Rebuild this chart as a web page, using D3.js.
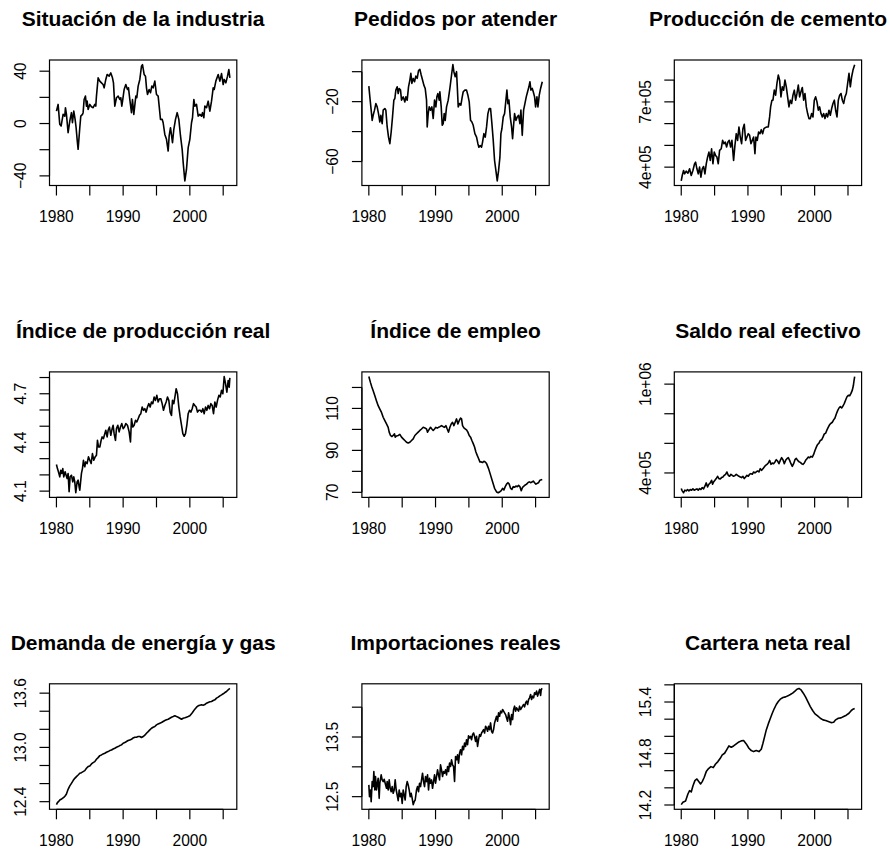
<!DOCTYPE html>
<html>
<head>
<meta charset="utf-8">
<script src="https://cdn.jsdelivr.net/npm/d3@7"></script>
<style>
  body { margin: 0; background: #fff; }
  svg text { font-family: "Liberation Sans", Arial, Helvetica, sans-serif; fill: #000; }
</style>
</head>
<body>
<svg id="chart" width="890" height="850"></svg>
<script>
/*--- data: [year, value] ---*/
var titles = ["Situación de la industria", "Pedidos por atender", "Producción de cemento",
  "Índice de producción real", "Índice de empleo", "Saldo real efectivo",
  "Demanda de energía y gas", "Importaciones reales", "Cartera neta real"];

var situacion = [[1980.0,9.5],[1980.25,14.6],[1980.5,-0.6],[1980.7,-1.9],[1981.0,7.0],[1981.25,5.7],[1981.35,12.1],[1981.5,7.0],[1981.75,-7.0],[1982.0,1.9],[1982.25,8.3],[1982.4,0.6],[1982.6,9.5],[1982.8,3.2],[1982.95,-3.2],[1983.1,-12.1],[1983.25,-19.7],[1983.5,-3.2],[1983.65,5.7],[1983.9,7.0],[1984.0,8.3],[1984.15,18.4],[1984.35,21.0],[1984.5,13.3],[1984.6,17.1],[1984.75,10.8],[1985.0,14.6],[1985.25,12.8],[1985.5,12.1],[1985.75,14.6],[1985.9,13.3],[1986.0,21.0],[1986.25,34.9],[1986.5,32.4],[1986.75,31.1],[1987.0,29.8],[1987.15,27.3],[1987.4,33.7],[1987.6,37.5],[1987.9,36.2],[1988.15,38.7],[1988.4,34.9],[1988.55,31.1],[1988.75,13.3],[1989.0,19.7],[1989.25,21.0],[1989.5,18.4],[1989.65,19.7],[1989.8,13.3],[1989.95,18.4],[1990.15,26.0],[1990.4,29.8],[1990.65,26.0],[1990.8,27.3],[1991.0,18.4],[1991.25,8.3],[1991.4,18.4],[1991.6,7.0],[1991.9,21.0],[1992.05,19.7],[1992.25,28.6],[1992.5,33.7],[1992.75,43.8],[1992.9,45.0],[1993.15,37.5],[1993.35,36.2],[1993.5,27.3],[1993.65,22.2],[1993.9,26.0],[1994.1,23.5],[1994.3,28.6],[1994.5,27.3],[1994.75,32.4],[1995.0,22.2],[1995.25,21.0],[1995.6,3.2],[1995.85,3.2],[1996.0,0.6],[1996.25,-8.3],[1996.5,-12.1],[1996.75,-21.0],[1996.9,-9.5],[1997.1,-3.2],[1997.4,-14.6],[1997.6,-4.4],[1997.85,3.2],[1998.1,8.3],[1998.35,3.2],[1998.6,-9.5],[1998.85,-19.7],[1999.0,-29.8],[1999.25,-43.8],[1999.5,-34.9],[1999.75,-18.4],[2000.0,-12.1],[2000.25,0.6],[2000.4,4.4],[2000.6,18.4],[2000.75,13.3],[2001.0,14.6],[2001.25,5.7],[2001.5,7.0],[2001.75,5.7],[2001.9,8.3],[2002.1,4.4],[2002.25,13.3],[2002.5,12.1],[2002.75,17.1],[2003.0,9.5],[2003.25,17.1],[2003.5,27.3],[2003.65,26.0],[2003.9,32.4],[2004.25,37.5],[2004.5,32.4],[2004.75,38.2],[2005.0,29.8],[2005.15,33.7],[2005.4,31.1],[2005.65,36.2],[2005.85,41.3],[2006.0,34.9]];

var pedidos = [[1980.0,-9.6],[1980.15,-16.8],[1980.35,-25.7],[1980.5,-32.5],[1980.65,-29.1],[1980.85,-25.7],[1981.05,-21.3],[1981.25,-23.5],[1981.45,-28.0],[1981.65,-33.6],[1981.8,-29.1],[1982.0,-34.7],[1982.15,-25.7],[1982.4,-24.6],[1982.55,-25.7],[1982.75,-36.9],[1982.95,-43.7],[1983.15,-48.1],[1983.35,-40.3],[1983.55,-30.2],[1983.75,-19.0],[1983.9,-17.9],[1984.05,-12.3],[1984.25,-10.1],[1984.4,-14.6],[1984.55,-11.2],[1984.75,-12.3],[1984.9,-19.0],[1985.15,-16.8],[1985.4,-20.2],[1985.55,-16.8],[1985.75,-19.0],[1985.95,-10.1],[1986.15,-5.6],[1986.3,-1.1],[1986.45,-7.8],[1986.65,-4.5],[1986.85,-6.7],[1987.05,-2.9],[1987.25,-4.5],[1987.45,0.7],[1987.65,1.6],[1987.85,-2.2],[1988.05,-5.6],[1988.25,-9.0],[1988.45,-11.2],[1988.65,-19.0],[1988.75,-36.9],[1988.9,-28.0],[1989.05,-23.5],[1989.25,-25.7],[1989.45,-23.5],[1989.65,-31.3],[1989.85,-19.0],[1990.05,-23.5],[1990.2,-16.8],[1990.35,-14.6],[1990.55,-19.0],[1990.65,-13.4],[1990.85,-23.5],[1991.0,-35.8],[1991.15,-34.7],[1991.3,-28.0],[1991.45,-32.5],[1991.65,-23.5],[1991.9,-19.0],[1992.15,-11.2],[1992.4,-2.2],[1992.6,4.7],[1992.75,0.0],[1992.95,-3.4],[1993.15,0.0],[1993.25,-9.0],[1993.4,-23.5],[1993.6,-21.3],[1993.8,-22.4],[1994.0,-16.8],[1994.15,-13.4],[1994.4,-12.3],[1994.65,-12.3],[1994.85,-15.7],[1995.05,-20.2],[1995.25,-32.5],[1995.45,-33.6],[1995.65,-35.8],[1995.9,-41.4],[1996.15,-43.7],[1996.35,-48.1],[1996.5,-50.4],[1996.7,-49.3],[1996.9,-50.4],[1997.05,-47.0],[1997.25,-41.4],[1997.45,-43.7],[1997.65,-36.9],[1997.85,-28.0],[1998.05,-24.6],[1998.25,-24.6],[1998.45,-34.7],[1998.65,-45.9],[1998.85,-59.3],[1999.05,-66.1],[1999.25,-72.9],[1999.45,-66.1],[1999.65,-57.1],[1999.8,-41.4],[1999.95,-38.1],[2000.15,-30.2],[2000.35,-28.0],[2000.55,-19.0],[2000.7,-12.3],[2000.85,-21.3],[2001.0,-19.0],[2001.2,-30.2],[2001.4,-36.9],[2001.55,-44.8],[2001.7,-35.8],[2001.85,-28.0],[2002.05,-32.5],[2002.25,-30.2],[2002.45,-29.1],[2002.65,-34.7],[2002.8,-25.7],[2003.0,-42.5],[2003.2,-25.7],[2003.4,-21.3],[2003.6,-16.8],[2003.8,-13.4],[2004.0,-10.1],[2004.15,-6.7],[2004.3,-12.3],[2004.5,-11.2],[2004.65,-13.4],[2004.85,-16.8],[2005.0,-23.5],[2005.2,-16.8],[2005.35,-23.5],[2005.55,-15.7],[2005.75,-11.2],[2006.0,-6.7]];

var cemento = [[1980.0,337000],[1980.15,361500],[1980.35,384600],[1980.5,369200],[1980.75,381500],[1981.0,372300],[1981.25,392300],[1981.5,361500],[1981.75,384600],[1982.0,415400],[1982.15,423100],[1982.35,392300],[1982.55,369200],[1982.75,400000],[1982.95,353800],[1983.15,392300],[1983.35,403100],[1983.55,369200],[1983.75,415400],[1983.95,446200],[1984.15,469200],[1984.35,430800],[1984.55,484600],[1984.75,415400],[1984.95,469200],[1985.15,453800],[1985.35,446200],[1985.55,415400],[1985.75,476900],[1986.0,484600],[1986.2,523100],[1986.4,507700],[1986.6,515400],[1986.8,492300],[1987.0,515400],[1987.2,523100],[1987.4,492300],[1987.6,523100],[1987.85,430800],[1988.05,500000],[1988.25,553800],[1988.45,523100],[1988.65,584600],[1988.85,538500],[1989.05,507700],[1989.25,576900],[1989.45,596900],[1989.65,523100],[1989.85,538500],[1990.05,553800],[1990.25,546200],[1990.45,507700],[1990.65,523100],[1990.85,538500],[1991.05,461500],[1991.2,538500],[1991.4,523100],[1991.6,561500],[1991.8,553800],[1992.0,572300],[1992.2,553800],[1992.4,576900],[1992.6,581500],[1992.8,584600],[1993.05,584600],[1993.25,630800],[1993.4,676900],[1993.6,707700],[1993.75,707700],[1993.95,753800],[1994.15,730800],[1994.35,784600],[1994.55,823100],[1994.75,800000],[1994.95,723100],[1995.15,769200],[1995.35,753800],[1995.55,800000],[1995.75,769200],[1995.95,723100],[1996.15,676900],[1996.35,707700],[1996.55,692300],[1996.75,730800],[1996.95,753800],[1997.15,707700],[1997.35,738500],[1997.55,776900],[1997.75,723100],[1997.95,746200],[1998.15,766200],[1998.35,707700],[1998.55,738500],[1998.75,676900],[1998.95,646200],[1999.15,623100],[1999.35,623100],[1999.55,646200],[1999.75,630800],[1999.95,707700],[2000.15,723100],[2000.35,700000],[2000.55,661500],[2000.75,676900],[2000.95,646200],[2001.15,630800],[2001.35,646200],[2001.55,623100],[2001.75,646200],[2001.95,630800],[2002.15,661500],[2002.35,638500],[2002.55,669200],[2002.75,692300],[2002.95,707700],[2003.15,661500],[2003.35,630800],[2003.55,707700],[2003.75,730800],[2003.95,738500],[2004.15,707700],[2004.35,692300],[2004.55,723100],[2004.75,738500],[2004.95,784600],[2005.15,830800],[2005.35,769200],[2005.55,815400],[2005.75,846200],[2006.0,871000]];

var produccion = [[1980.0,4.264],[1980.15,4.239],[1980.3,4.219],[1980.5,4.188],[1980.65,4.229],[1980.8,4.209],[1980.95,4.239],[1981.1,4.188],[1981.3,4.219],[1981.45,4.198],[1981.6,4.178],[1981.75,4.209],[1981.9,4.096],[1982.05,4.188],[1982.25,4.198],[1982.45,4.157],[1982.6,4.188],[1982.75,4.157],[1982.9,4.090],[1983.1,4.157],[1983.25,4.168],[1983.4,4.127],[1983.5,4.106],[1983.75,4.209],[1983.9,4.239],[1984.05,4.290],[1984.25,4.250],[1984.4,4.280],[1984.6,4.270],[1984.8,4.311],[1985.0,4.290],[1985.2,4.270],[1985.4,4.331],[1985.6,4.290],[1985.8,4.311],[1986.0,4.321],[1986.15,4.413],[1986.3,4.372],[1986.5,4.372],[1986.7,4.413],[1986.85,4.434],[1987.05,4.424],[1987.25,4.454],[1987.4,4.475],[1987.6,4.434],[1987.75,4.475],[1987.95,4.495],[1988.15,4.444],[1988.35,4.485],[1988.5,4.506],[1988.65,4.454],[1988.85,4.413],[1989.0,4.485],[1989.2,4.506],[1989.4,4.465],[1989.6,4.495],[1989.8,4.516],[1990.0,4.485],[1990.2,4.495],[1990.4,4.516],[1990.65,4.506],[1990.9,4.465],[1991.1,4.403],[1991.25,4.546],[1991.45,4.495],[1991.65,4.506],[1991.85,4.536],[1992.05,4.526],[1992.25,4.546],[1992.45,4.567],[1992.65,4.577],[1992.85,4.618],[1993.05,4.598],[1993.25,4.608],[1993.45,4.587],[1993.65,4.618],[1993.85,4.639],[1994.05,4.618],[1994.25,4.649],[1994.45,4.639],[1994.65,4.680],[1994.85,4.659],[1995.05,4.690],[1995.25,4.649],[1995.45,4.669],[1995.65,4.669],[1995.85,4.639],[1996.05,4.598],[1996.25,4.628],[1996.45,4.649],[1996.65,4.680],[1996.85,4.659],[1997.05,4.587],[1997.25,4.567],[1997.4,4.659],[1997.6,4.639],[1997.8,4.690],[1997.95,4.731],[1998.15,4.700],[1998.35,4.618],[1998.55,4.557],[1998.75,4.506],[1998.95,4.454],[1999.15,4.438],[1999.35,4.454],[1999.55,4.506],[1999.75,4.577],[1999.95,4.598],[2000.15,4.587],[2000.35,4.608],[2000.55,4.639],[2000.75,4.628],[2000.95,4.618],[2001.15,4.587],[2001.35,4.598],[2001.55,4.598],[2001.75,4.587],[2001.95,4.608],[2002.15,4.577],[2002.35,4.618],[2002.55,4.598],[2002.75,4.628],[2002.95,4.608],[2003.15,4.639],[2003.35,4.628],[2003.55,4.577],[2003.75,4.649],[2003.95,4.618],[2004.15,4.659],[2004.35,4.690],[2004.55,4.680],[2004.75,4.721],[2004.95,4.700],[2005.15,4.806],[2005.35,4.762],[2005.55,4.710],[2005.75,4.782],[2005.9,4.741],[2006.0,4.798]];

var empleo = [[1980.0,125.2],[1980.25,122.3],[1980.45,120.2],[1980.65,118.4],[1980.9,116.0],[1981.15,113.6],[1981.4,111.3],[1981.65,109.7],[1981.9,108.1],[1982.15,105.8],[1982.4,104.2],[1982.65,102.6],[1982.9,101.0],[1983.05,98.7],[1983.25,97.1],[1983.45,96.6],[1983.65,97.1],[1983.85,97.9],[1983.95,96.3],[1984.15,96.9],[1984.4,97.1],[1984.65,97.6],[1984.9,96.3],[1985.15,95.5],[1985.4,94.7],[1985.65,93.9],[1985.9,93.5],[1986.15,93.9],[1986.4,94.7],[1986.65,95.5],[1986.9,97.1],[1987.15,97.9],[1987.4,98.7],[1987.65,99.5],[1987.9,100.2],[1988.15,101.0],[1988.4,100.7],[1988.65,100.2],[1988.8,98.7],[1989.0,99.8],[1989.25,101.0],[1989.45,100.2],[1989.65,99.5],[1989.85,100.2],[1990.05,101.0],[1990.25,100.6],[1990.45,101.0],[1990.65,101.3],[1990.9,101.8],[1991.15,101.3],[1991.35,101.0],[1991.55,101.8],[1991.75,100.2],[1991.95,98.7],[1992.15,101.0],[1992.35,102.6],[1992.55,103.4],[1992.75,101.8],[1992.95,103.4],[1993.15,105.0],[1993.35,102.6],[1993.55,104.2],[1993.75,105.4],[1993.9,105.0],[1994.05,101.8],[1994.25,100.7],[1994.45,100.2],[1994.65,99.8],[1994.85,98.7],[1995.05,97.1],[1995.25,96.3],[1995.45,94.7],[1995.65,93.2],[1995.85,91.6],[1996.05,89.2],[1996.25,87.6],[1996.45,86.1],[1996.65,84.5],[1996.85,84.5],[1997.05,84.2],[1997.25,84.8],[1997.45,84.5],[1997.65,83.7],[1997.95,81.3],[1998.25,78.2],[1998.55,75.0],[1998.85,71.9],[1999.15,70.2],[1999.4,69.8],[1999.65,70.3],[1999.85,70.8],[2000.05,71.9],[2000.25,71.1],[2000.45,72.7],[2000.65,73.9],[2000.85,74.6],[2001.05,73.9],[2001.25,71.9],[2001.45,71.4],[2001.65,72.7],[2001.85,72.4],[2002.05,73.0],[2002.25,72.7],[2002.45,73.3],[2002.65,72.7],[2002.85,70.8],[2003.05,72.4],[2003.25,73.0],[2003.45,73.5],[2003.65,73.9],[2003.85,74.6],[2004.05,75.0],[2004.25,74.6],[2004.45,74.9],[2004.65,75.4],[2004.85,74.6],[2005.05,73.9],[2005.25,74.3],[2005.45,74.6],[2005.65,75.8],[2006.0,76.1]];

var saldo = [[1980.0,294800],[1980.15,279100],[1980.35,266300],[1980.55,283600],[1980.75,279100],[1980.95,288100],[1981.15,279100],[1981.35,288100],[1981.55,283600],[1981.75,292500],[1981.95,283600],[1982.15,288100],[1982.35,292500],[1982.55,283600],[1982.75,294800],[1982.95,288100],[1983.15,301500],[1983.35,292500],[1983.55,310400],[1983.75,332800],[1983.95,306000],[1984.15,323900],[1984.35,332800],[1984.55,350700],[1984.7,323900],[1984.85,339600],[1985.05,350700],[1985.25,361900],[1985.45,377600],[1985.65,361900],[1985.85,359700],[1986.05,368700],[1986.25,373100],[1986.45,384300],[1986.65,391000],[1986.85,406700],[1987.05,384300],[1987.25,377600],[1987.45,391000],[1987.65,384300],[1987.85,377600],[1988.05,382100],[1988.25,391000],[1988.45,384300],[1988.65,377600],[1988.85,373100],[1989.05,368700],[1989.25,377600],[1989.45,361900],[1989.65,373100],[1989.85,384300],[1990.05,377600],[1990.25,391000],[1990.45,395500],[1990.65,391000],[1990.85,406700],[1991.05,400000],[1991.25,406700],[1991.45,413400],[1991.65,406700],[1991.85,429100],[1992.05,417900],[1992.25,429100],[1992.45,440300],[1992.65,451500],[1992.85,458200],[1993.05,467200],[1993.25,485100],[1993.45,458200],[1993.65,467200],[1993.85,462700],[1994.05,473900],[1994.25,489600],[1994.45,480600],[1994.65,462700],[1994.85,485100],[1995.05,503000],[1995.25,489600],[1995.45,462700],[1995.65,485100],[1995.85,496300],[1996.05,503000],[1996.25,485100],[1996.45,462700],[1996.65,444800],[1996.85,462700],[1997.05,489600],[1997.25,498500],[1997.45,485100],[1997.65,476100],[1997.85,471600],[1998.05,462700],[1998.25,458200],[1998.45,467200],[1998.65,485100],[1998.85,496300],[1999.05,507500],[1999.25,503000],[1999.45,512000],[1999.65,507500],[1999.85,525400],[2000.05,552200],[2000.25,574600],[2000.45,592500],[2000.65,601500],[2000.85,619400],[2001.05,623900],[2001.25,641800],[2001.45,664200],[2001.65,668700],[2001.85,691000],[2002.05,709000],[2002.25,726900],[2002.45,735800],[2002.65,742500],[2002.85,758200],[2003.05,771600],[2003.25,798500],[2003.45,820900],[2003.65,838800],[2003.85,847800],[2004.05,838800],[2004.25,852200],[2004.45,870100],[2004.65,892500],[2004.85,914900],[2005.05,923900],[2005.25,921600],[2005.45,937300],[2005.65,959700],[2005.8,988800],[2005.9,1022400],[2006.0,1051200]];

var energia = [[1980.0,12.367],[1980.15,12.389],[1980.3,12.400],[1980.5,12.418],[1980.7,12.426],[1980.9,12.437],[1981.1,12.448],[1981.3,12.463],[1981.5,12.485],[1981.75,12.537],[1982.0,12.574],[1982.25,12.603],[1982.5,12.633],[1982.75,12.658],[1983.0,12.677],[1983.25,12.695],[1983.5,12.714],[1983.75,12.721],[1984.0,12.732],[1984.25,12.743],[1984.5,12.769],[1984.75,12.788],[1985.0,12.795],[1985.25,12.817],[1985.5,12.832],[1985.75,12.843],[1986.0,12.869],[1986.25,12.887],[1986.5,12.909],[1986.75,12.917],[1987.0,12.928],[1987.25,12.935],[1987.5,12.946],[1987.75,12.954],[1988.0,12.965],[1988.25,12.972],[1988.5,12.983],[1988.75,12.991],[1989.0,13.002],[1989.25,13.009],[1989.5,13.020],[1989.75,13.028],[1990.0,13.046],[1990.25,13.053],[1990.5,13.065],[1990.75,13.076],[1991.0,13.083],[1991.25,13.090],[1991.5,13.105],[1991.75,13.113],[1992.0,13.113],[1992.25,13.120],[1992.5,13.120],[1992.75,13.109],[1993.0,13.120],[1993.25,13.135],[1993.5,13.157],[1993.75,13.175],[1994.0,13.194],[1994.25,13.212],[1994.5,13.223],[1994.75,13.231],[1995.0,13.249],[1995.25,13.260],[1995.5,13.268],[1995.75,13.275],[1996.0,13.286],[1996.25,13.297],[1996.5,13.305],[1996.75,13.312],[1997.0,13.323],[1997.25,13.334],[1997.5,13.341],[1997.75,13.349],[1998.0,13.341],[1998.25,13.334],[1998.5,13.323],[1998.75,13.312],[1999.0,13.323],[1999.25,13.327],[1999.5,13.334],[1999.75,13.341],[2000.0,13.349],[2000.25,13.371],[2000.5,13.397],[2000.75,13.423],[2001.0,13.445],[2001.25,13.460],[2001.5,13.467],[2001.75,13.471],[2002.0,13.467],[2002.25,13.474],[2002.5,13.489],[2002.75,13.497],[2003.0,13.504],[2003.25,13.508],[2003.5,13.519],[2003.75,13.526],[2004.0,13.545],[2004.25,13.556],[2004.5,13.570],[2004.75,13.581],[2005.0,13.593],[2005.25,13.607],[2005.5,13.618],[2005.75,13.637],[2006.0,13.652]];

var importaciones = [[1980.0,12.697],[1980.1,12.500],[1980.25,12.612],[1980.35,12.416],[1980.5,12.753],[1980.65,12.669],[1980.75,12.921],[1980.9,12.612],[1981.0,12.837],[1981.15,12.612],[1981.25,12.697],[1981.4,12.809],[1981.55,12.472],[1981.65,12.725],[1981.85,12.865],[1982.0,12.781],[1982.15,12.753],[1982.3,12.792],[1982.45,12.725],[1982.65,12.640],[1982.75,12.753],[1982.9,12.612],[1983.05,12.781],[1983.2,12.640],[1983.35,12.584],[1983.5,12.669],[1983.65,12.556],[1983.8,12.612],[1983.95,12.781],[1984.1,12.612],[1984.25,12.528],[1984.4,12.433],[1984.55,12.612],[1984.7,12.500],[1984.85,12.556],[1985.0,12.388],[1985.15,12.612],[1985.3,12.528],[1985.45,12.444],[1985.6,12.669],[1985.75,12.753],[1985.9,12.697],[1986.05,12.612],[1986.2,12.500],[1986.35,12.556],[1986.5,12.472],[1986.65,12.366],[1986.8,12.416],[1986.95,12.444],[1987.15,12.612],[1987.3,12.669],[1987.45,12.584],[1987.6,12.725],[1987.75,12.669],[1987.9,12.781],[1988.05,12.893],[1988.2,12.753],[1988.35,12.669],[1988.5,12.837],[1988.65,12.753],[1988.8,12.865],[1988.95,12.612],[1989.1,12.809],[1989.25,12.725],[1989.4,12.781],[1989.55,12.640],[1989.7,12.753],[1989.85,12.865],[1990.0,12.725],[1990.15,12.837],[1990.3,12.949],[1990.45,12.865],[1990.6,12.781],[1990.75,13.034],[1990.9,12.949],[1991.05,12.837],[1991.2,12.921],[1991.35,12.893],[1991.5,12.949],[1991.65,12.865],[1991.8,13.006],[1991.95,12.921],[1992.1,13.062],[1992.25,13.006],[1992.4,13.118],[1992.55,13.034],[1992.7,13.006],[1992.85,12.753],[1993.0,13.174],[1993.15,13.118],[1993.3,13.202],[1993.45,13.062],[1993.6,13.230],[1993.75,13.287],[1993.9,13.202],[1994.05,13.343],[1994.2,13.287],[1994.35,13.399],[1994.5,13.343],[1994.65,13.455],[1994.8,13.371],[1994.95,13.522],[1995.1,13.483],[1995.25,13.511],[1995.4,13.455],[1995.55,13.539],[1995.7,13.567],[1995.85,13.511],[1996.0,13.427],[1996.15,13.511],[1996.3,13.343],[1996.45,13.455],[1996.6,13.539],[1996.75,13.511],[1996.9,13.567],[1997.05,13.596],[1997.2,13.624],[1997.35,13.567],[1997.5,13.680],[1997.65,13.652],[1997.8,13.596],[1997.95,13.680],[1998.1,13.624],[1998.25,13.736],[1998.4,13.596],[1998.55,13.567],[1998.7,13.624],[1998.85,13.736],[1999.0,13.792],[1999.15,13.848],[1999.3,13.764],[1999.45,13.904],[1999.6,13.848],[1999.75,13.933],[1999.9,13.904],[2000.05,13.961],[2000.2,13.933],[2000.35,13.904],[2000.5,13.876],[2000.65,13.820],[2000.8,13.764],[2000.95,13.904],[2001.1,13.820],[2001.25,13.708],[2001.4,13.876],[2001.55,13.792],[2001.7,13.961],[2001.85,14.017],[2002.0,13.933],[2002.15,13.989],[2002.3,13.961],[2002.45,13.933],[2002.6,14.017],[2002.75,13.961],[2002.9,13.989],[2003.05,14.017],[2003.2,14.045],[2003.35,14.006],[2003.5,14.073],[2003.65,14.101],[2003.8,14.045],[2003.95,14.129],[2004.1,14.157],[2004.25,14.213],[2004.4,14.129],[2004.55,14.185],[2004.7,14.157],[2004.85,14.242],[2005.0,14.213],[2005.15,14.270],[2005.3,14.185],[2005.45,14.242],[2005.6,14.298],[2005.75,14.197],[2005.85,14.298],[2006.0,14.314]];

var cartera = [[1980.0,14.204],[1980.25,14.231],[1980.65,14.247],[1981.0,14.328],[1981.25,14.367],[1981.5,14.352],[1981.75,14.422],[1982.05,14.484],[1982.35,14.503],[1982.65,14.472],[1982.9,14.445],[1983.15,14.472],[1983.45,14.523],[1983.75,14.589],[1984.1,14.624],[1984.45,14.647],[1984.8,14.636],[1985.15,14.678],[1985.5,14.706],[1985.85,14.744],[1986.15,14.783],[1986.5,14.803],[1986.85,14.849],[1987.15,14.888],[1987.5,14.873],[1987.85,14.888],[1988.25,14.912],[1988.65,14.935],[1989.0,14.947],[1989.35,14.951],[1989.75,14.912],[1990.15,14.861],[1990.5,14.834],[1990.85,14.822],[1991.25,14.834],[1991.65,14.822],[1992.0,14.849],[1992.25,14.919],[1992.5,14.997],[1992.75,15.075],[1993.05,15.145],[1993.35,15.207],[1993.65,15.269],[1993.95,15.324],[1994.25,15.371],[1994.55,15.406],[1994.85,15.433],[1995.25,15.452],[1995.65,15.460],[1996.0,15.472],[1996.35,15.487],[1996.7,15.503],[1997.05,15.526],[1997.35,15.549],[1997.65,15.558],[1997.95,15.542],[1998.3,15.503],[1998.65,15.456],[1999.0,15.402],[1999.35,15.347],[1999.7,15.301],[2000.05,15.262],[2000.45,15.238],[2000.85,15.211],[2001.25,15.192],[2001.65,15.184],[2002.05,15.172],[2002.45,15.160],[2002.85,15.164],[2003.15,15.192],[2003.55,15.211],[2003.95,15.215],[2004.35,15.231],[2004.75,15.246],[2005.15,15.269],[2005.5,15.301],[2005.75,15.316],[2006.0,15.324]];

var series = [situacion, pedidos, cemento, produccion, empleo, saldo, energia, importaciones, cartera];

/*--- layout (3 x 3 grid, base-graphics look) ---*/
var ncol = 3;
var cellW = 312.4, cellH = 311.9;
var boxX0 = 49.5, boxY0 = 60, boxW = 187.3, boxH = 125.5;
var tickLen = 10, labGap = 18.5;

var svg = d3.select("#chart");

// range extended by 4% on each side
function usr(vals) {
	var e = d3.extent(vals), r = e[1] - e[0];
	return [e[0] - 0.04 * r, e[1] + 0.04 * r];
}

// tick step like R's axis pretty
function rPretty(lo, hi, ndiv) {
	var h = 0.8, h5 = 1.7;
	var cell = (hi - lo) / ndiv;
	var base = Math.pow(10, Math.floor(Math.log10(cell)));
	var unit = base, ns;
	if ((ns = 2 * base) - cell < h * (cell - unit)) {
		unit = ns;
		if ((ns = 5 * base) - cell < h5 * (cell - unit)) {
			unit = ns;
			if ((ns = 10 * base) - cell < h * (cell - unit)) unit = ns;
		}
	}
	var ticks = [];
	var i0 = Math.ceil(lo / unit - 1e-7), i1 = Math.floor(hi / unit + 1e-7);
	for (var i = i0; i <= i1; i++) ticks.push(+(i * unit).toPrecision(12));
	return { unit: unit, ticks: ticks };
}

// fixed or scientific, whichever is shorter
function rLabels(ticks, unit) {
	var dec = Math.max(0, -Math.floor(Math.log10(unit) + 1e-9));
	var fixed = ticks.map(function (t) { return t.toFixed(dec); });
	var md = 0;
	while (md < 6 && ticks.some(function (t) { return Math.abs(+t.toExponential(md) - t) > 1e-9 * Math.max(1, Math.abs(t)); })) md++;
	var sci = ticks.map(function (t) { return t.toExponential(md).replace(/e([+-])(\d)$/, "e$10$2"); });
	var wf = d3.max(fixed, function (s) { return s.length; });
	var ws = d3.max(sci, function (s) { return s.length; });
	var out = wf > ws ? sci : fixed;
	return out.map(function (s) { return s.replace("-", "\u2212"); });
}

function drawAxis(g, scale, side, left, top) {
	var dom = scale.domain();
	var pr = rPretty(dom[0], dom[1], 5);
	var labs = rLabels(pr.ticks, pr.unit);
	var p0 = scale(pr.ticks[0]), p1 = scale(pr.ticks[pr.ticks.length - 1]);
	if (side === "bottom") {
		g.append("line").attr("x1", p0).attr("x2", p1)
			.attr("y1", top + boxH).attr("y2", top + boxH);
	} else {
		g.append("line").attr("x1", left).attr("x2", left)
			.attr("y1", p0).attr("y2", p1);
	}
	var last = -Infinity;
	pr.ticks.forEach(function (t, k) {
		var p = scale(t), txt, a, w;
		if (side === "bottom") {
			g.append("line").attr("x1", p).attr("x2", p)
				.attr("y1", top + boxH).attr("y2", top + boxH + tickLen);
			txt = g.append("text")
				.attr("x", p).attr("y", top + boxH + 36.5)
				.attr("text-anchor", "middle")
				.style("font-size", "15.6px")
				.text(labs[k]);
			a = p;
		} else {
			g.append("line").attr("x1", left - tickLen).attr("x2", left)
				.attr("y1", p).attr("y2", p);
			txt = g.append("text")
				.attr("transform", "translate(" + (left - 23.5) + "," + p + ") rotate(-90)")
				.attr("text-anchor", "middle")
				.style("font-size", "15.6px")
				.text(labs[k]);
			a = -p;
		}
		w = txt.node().getComputedTextLength();
		//skip a label that would run into the previous one
		if (a - w / 2 - last >= labGap) last = a + w / 2;
		else txt.remove();
	});
}

series.forEach(function (data, i) {
	var col = i % ncol, row = Math.floor(i / ncol);
	var left = boxX0 + col * cellW, top = boxY0 + row * cellH;

	var x = d3.scaleLinear()
		.domain(usr(data.map(function (d) { return d[0]; })))
		.range([left, left + boxW]);
	var y = d3.scaleLinear()
		.domain(usr(data.map(function (d) { return d[1]; })))
		.range([top + boxH, top]);

	var g = svg.append("g")
		.attr("stroke", "#000")
		.attr("stroke-width", 1.2);

	// the series
	g.append("path")
		.datum(data)
		.attr("fill", "none")
		.attr("stroke-width", 1.6)
		.attr("stroke-linejoin", "round")
		.attr("d", d3.line().x(function (d) { return x(d[0]); }).y(function (d) { return y(d[1]); }));

	// box
	g.append("rect")
		.attr("x", left).attr("y", top)
		.attr("width", boxW).attr("height", boxH)
		.attr("fill", "none");

	var ga = svg.append("g").attr("stroke", "#000").attr("stroke-width", 1.2);
	drawAxis(ga, x, "bottom", left, top);
	drawAxis(ga, y, "left", left, top);
	ga.selectAll("text").attr("stroke", "none");

	// title
	svg.append("text")
		.attr("x", left + boxW / 2)
		.attr("y", top - 34)
		.attr("text-anchor", "middle")
		.style("font-size", "21px")
		.style("font-weight", "bold")
		.text(titles[i]);
});
</script>
</body>
</html>
